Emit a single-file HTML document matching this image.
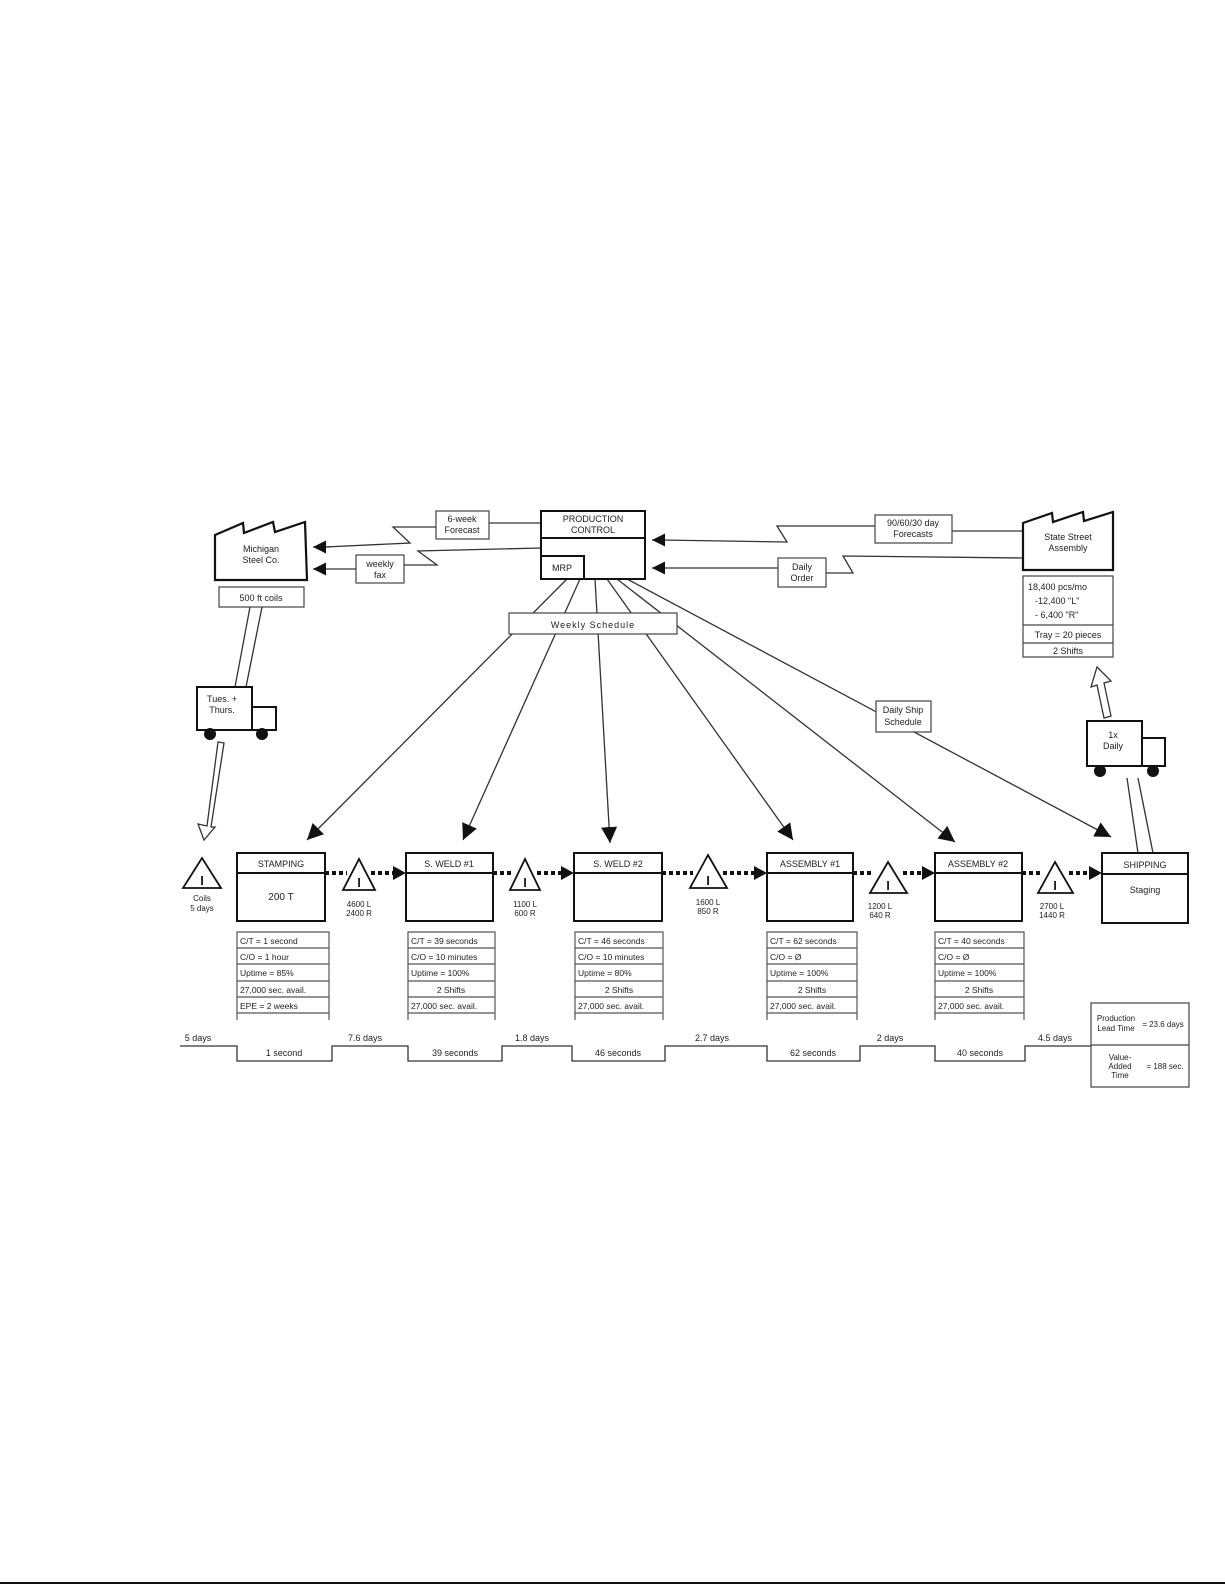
<!DOCTYPE html>
<html><head><meta charset="utf-8"><style>
html,body{margin:0;padding:0;background:#fff}
svg{display:block}
text{font-family:"Liberation Sans",sans-serif;fill:#222}
</style></head><body>
<svg width="1225" height="1585" viewBox="0 0 1225 1585" xmlns="http://www.w3.org/2000/svg">
<defs>
<marker id="ah" viewBox="0 0 10 10" refX="10" refY="5" markerWidth="16" markerHeight="16" markerUnits="userSpaceOnUse" orient="auto"><path d="M0,0 L10,5 L0,10 z" fill="#111"/></marker>
<marker id="ahb" viewBox="0 0 10 10" refX="10" refY="5" markerWidth="13" markerHeight="13" markerUnits="userSpaceOnUse" orient="auto"><path d="M0,0 L10,5 L0,10 z" fill="#111"/></marker>
</defs>
<rect width="1225" height="1585" fill="#fff"/>
<rect x="0" y="1582" width="1225" height="2" fill="#111"/>
<g stroke="#333" fill="none" stroke-width="1.3">
<line x1="567" y1="579" x2="307" y2="840" marker-end="url(#ah)"/>
<line x1="580" y1="579" x2="463" y2="840" marker-end="url(#ah)"/>
<line x1="595" y1="579" x2="610" y2="843" marker-end="url(#ah)"/>
<line x1="607" y1="579" x2="793" y2="840" marker-end="url(#ah)"/>
<line x1="617" y1="579" x2="955" y2="842" marker-end="url(#ah)"/>
<line x1="627" y1="579" x2="1111" y2="837" marker-end="url(#ah)"/>
<polyline points="541,523 489,523"/>
<polyline points="436,527 393,527 410,543 325,547" />
<line x1="330" y1="547" x2="313" y2="547" marker-end="url(#ahb)"/>
<polyline points="541,548 418,551 437,565 404,565"/>
<line x1="356" y1="569" x2="313" y2="569" marker-end="url(#ahb)"/>
<polyline points="1023,531 952,531"/>
<polyline points="875,526 777,526 787,542 660,540"/>
<line x1="665" y1="540" x2="652" y2="540" marker-end="url(#ahb)"/>
<polyline points="1023,558 843,556 853,573 826,573"/>
<line x1="778" y1="568" x2="652" y2="568" marker-end="url(#ahb)"/>
<line x1="250" y1="607" x2="235" y2="687"/><line x1="262" y1="607" x2="246" y2="687"/>
<line x1="1138" y1="853" x2="1127" y2="778"/><line x1="1153" y1="853" x2="1138" y2="778"/>
<path d="M218,742 L207,826 L198,824 L204,840 L215,827 L211,827 L224,743 Z" fill="#fff"/>
<path d="M1104,718 L1097,685 L1091,687 L1097,667 L1111,681 L1104,683 L1111,716 Z" fill="#fff"/>
<polyline points="180,1046 237,1046 237,1061 332,1061 332,1046 408,1046 408,1061 502,1061 502,1046 572,1046 572,1061 665,1061 665,1046 767,1046 767,1061 860,1061 860,1046 935,1046 935,1061 1025,1061 1025,1046 1091,1046"/>
</g>
<g stroke="#111" stroke-width="2.2" fill="#fff">
<path d="M215,535 L243,523 L244,533 L273,522 L275,532 L305,522 L307,580 L215,580 Z"/>
<path d="M1023,523 L1052,513 L1053,522 L1083,512 L1084,521 L1113,512 L1113,570 L1023,570 Z"/>
</g>
<g font-size="9" text-anchor="middle">
<text x="261" y="552">Michigan</text><text x="261" y="563">Steel Co.</text>
<text x="1068" y="540">State Street</text><text x="1068" y="551">Assembly</text>
</g>
<g stroke="#444" stroke-width="1.2" fill="#fff">
<rect x="219" y="587" width="85" height="20"/>
<rect x="436" y="511" width="53" height="28"/>
<rect x="356" y="555" width="48" height="28"/>
<rect x="509" y="613" width="168" height="21"/>
<rect x="875" y="515" width="77" height="28"/>
<rect x="778" y="558" width="48" height="29"/>
<rect x="876" y="701" width="55" height="31"/>
<rect x="1023" y="576" width="90" height="81"/>
<line x1="1023" y1="625" x2="1113" y2="625"/><line x1="1023" y1="643" x2="1113" y2="643"/>
<rect x="1091" y="1003" width="98" height="84"/>
<line x1="1091" y1="1045" x2="1189" y2="1045"/>
</g>
<g font-size="9" text-anchor="middle">
<text x="261" y="601">500 ft coils</text>
<text x="462" y="522">6-week</text><text x="462" y="533">Forecast</text>
<text x="380" y="567">weekly</text><text x="380" y="578">fax</text>
<text x="593" y="628" letter-spacing="1">Weekly Schedule</text>
<text x="913" y="526">90/60/30 day</text><text x="913" y="537">Forecasts</text>
<text x="802" y="570">Daily</text><text x="802" y="581">Order</text>
<text x="903" y="713">Daily Ship</text><text x="903" y="725">Schedule</text>
<text x="1028" y="590" text-anchor="start">18,400 pcs/mo</text>
<text x="1035" y="604" text-anchor="start">-12,400 "L"</text>
<text x="1035" y="618" text-anchor="start">- 6,400 "R"</text>
<text x="1068" y="638">Tray = 20 pieces</text>
<text x="1068" y="654">2 Shifts</text>
<text x="1116" y="1021" font-size="8">Production</text><text x="1116" y="1031" font-size="8">Lead Time</text>
<text x="1163" y="1027" font-size="8">= 23.6 days</text>
<text x="1120" y="1060" font-size="8">Value-</text><text x="1120" y="1069" font-size="8">Added</text><text x="1120" y="1078" font-size="8">Time</text>
<text x="1165" y="1069" font-size="8">= 188 sec.</text>
</g>
<g stroke="#111" stroke-width="2" fill="#fff">
<rect x="541" y="511" width="104" height="68"/>
<line x1="541" y1="538" x2="645" y2="538"/>
<rect x="541" y="556" width="43" height="23"/>
</g>
<g font-size="9" text-anchor="middle">
<text x="593" y="522">PRODUCTION</text><text x="593" y="533">CONTROL</text>
<text x="562" y="571">MRP</text>
</g>
<g stroke="#111" stroke-width="2" fill="#fff">
<rect x="197" y="687" width="55" height="43"/><rect x="252" y="707" width="24" height="23"/>
<rect x="1087" y="721" width="55" height="45"/><rect x="1142" y="738" width="23" height="28"/>
</g>
<g fill="#111"><circle cx="210" cy="734" r="6"/><circle cx="262" cy="734" r="6"/><circle cx="1100" cy="771" r="6"/><circle cx="1153" cy="771" r="6"/></g>
<g font-size="9" text-anchor="middle">
<text x="222" y="702">Tues. +</text><text x="222" y="713">Thurs.</text>
<text x="1113" y="738">1x</text><text x="1113" y="749">Daily</text>
</g>
<g stroke="#111" stroke-width="4" stroke-dasharray="4,3">
<line x1="325" y1="873" x2="347" y2="873"/><line x1="371" y1="873" x2="394" y2="873"/>
<line x1="493" y1="873" x2="514" y2="873"/><line x1="537" y1="873" x2="562" y2="873"/>
<line x1="662" y1="873" x2="693" y2="873"/><line x1="723" y1="873" x2="755" y2="873"/>
<line x1="853" y1="873" x2="874" y2="873"/><line x1="903" y1="873" x2="923" y2="873"/>
<line x1="1022" y1="873" x2="1042" y2="873"/><line x1="1069" y1="873" x2="1090" y2="873"/>
</g>
<g fill="#111">
<path d="M393,866 L406,873 L393,880 Z"/><path d="M561,866 L574,873 L561,880 Z"/>
<path d="M754,866 L767,873 L754,880 Z"/><path d="M922,866 L935,873 L922,880 Z"/>
<path d="M1089,866 L1102,873 L1089,880 Z"/>
</g>
<g stroke="#111" stroke-width="1.8" fill="#fff">
<path d="M202,858 L183,888 L221,888 Z"/>
<path d="M359,859 L343,890 L375,890 Z"/>
<path d="M525,859 L510,890 L540,890 Z"/>
<path d="M708,855 L690,888 L727,888 Z"/>
<path d="M888,862 L870,893 L907,893 Z"/>
<path d="M1055,862 L1038,893 L1073,893 Z"/>
</g>
<g font-size="13" text-anchor="middle" font-weight="bold"><text x="202" y="885">I</text><text x="359" y="887">I</text><text x="525" y="887">I</text><text x="708" y="885">I</text><text x="888" y="890">I</text><text x="1055" y="890">I</text></g>
<g font-size="8" text-anchor="middle">
<text x="202" y="901">Coils</text><text x="202" y="911">5 days</text>
<text x="359" y="907">4600 L</text><text x="359" y="916">2400 R</text>
<text x="525" y="907">1100 L</text><text x="525" y="916">600 R</text>
<text x="708" y="905">1600 L</text><text x="708" y="914">850 R</text>
<text x="880" y="909">1200 L</text><text x="880" y="918">640 R</text>
<text x="1052" y="909">2700 L</text><text x="1052" y="918">1440 R</text>
</g>
<g stroke="#111" stroke-width="2" fill="#fff">
<rect x="237" y="853" width="88" height="68"/><line x1="237" y1="873" x2="325" y2="873"/>
<rect x="406" y="853" width="87" height="68"/><line x1="406" y1="873" x2="493" y2="873"/>
<rect x="574" y="853" width="88" height="68"/><line x1="574" y1="873" x2="662" y2="873"/>
<rect x="767" y="853" width="86" height="68"/><line x1="767" y1="873" x2="853" y2="873"/>
<rect x="935" y="853" width="87" height="68"/><line x1="935" y1="873" x2="1022" y2="873"/>
<rect x="1102" y="853" width="86" height="70"/><line x1="1102" y1="874" x2="1188" y2="874"/>
</g>
<g font-size="9" text-anchor="middle">
<text x="281" y="867">STAMPING</text><text x="281" y="900" font-size="10">200 T</text>
<text x="449" y="867">S. WELD #1</text>
<text x="618" y="867">S. WELD #2</text>
<text x="810" y="867">ASSEMBLY #1</text>
<text x="978" y="867">ASSEMBLY #2</text>
<text x="1145" y="868">SHIPPING</text><text x="1145" y="893">Staging</text>
</g>
<g stroke="#555" stroke-width="1.2" fill="none">
<path d="M237,1020 V932 H329 V1020 M237,948 H329 M237,964 H329 M237,981 H329 M237,997 H329 M237,1013 H329"/>
<path d="M408,1020 V932 H495 V1020 M408,948 H495 M408,964 H495 M408,981 H495 M408,997 H495 M408,1013 H495"/>
<path d="M575,1020 V932 H663 V1020 M575,948 H663 M575,964 H663 M575,981 H663 M575,997 H663 M575,1013 H663"/>
<path d="M767,1020 V932 H857 V1020 M767,948 H857 M767,964 H857 M767,981 H857 M767,997 H857 M767,1013 H857"/>
<path d="M935,1020 V932 H1024 V1020 M935,948 H1024 M935,964 H1024 M935,981 H1024 M935,997 H1024 M935,1013 H1024"/>
</g>
<g font-size="8.5">
<text x="240" y="944">C/T = 1 second</text><text x="240" y="960">C/O = 1 hour</text><text x="240" y="976">Uptime = 85%</text><text x="240" y="993">27,000 sec. avail.</text><text x="240" y="1009">EPE = 2 weeks</text>
<text x="411" y="944">C/T = 39 seconds</text><text x="411" y="960">C/O = 10 minutes</text><text x="411" y="976">Uptime = 100%</text><text x="451" y="993" text-anchor="middle">2 Shifts</text><text x="411" y="1009">27,000 sec. avail.</text>
<text x="578" y="944">C/T = 46 seconds</text><text x="578" y="960">C/O = 10 minutes</text><text x="578" y="976">Uptime = 80%</text><text x="619" y="993" text-anchor="middle">2 Shifts</text><text x="578" y="1009">27,000 sec. avail.</text>
<text x="770" y="944">C/T = 62 seconds</text><text x="770" y="960">C/O = Ø</text><text x="770" y="976">Uptime = 100%</text><text x="812" y="993" text-anchor="middle">2 Shifts</text><text x="770" y="1009">27,000 sec. avail.</text>
<text x="938" y="944">C/T = 40 seconds</text><text x="938" y="960">C/O = Ø</text><text x="938" y="976">Uptime = 100%</text><text x="979" y="993" text-anchor="middle">2 Shifts</text><text x="938" y="1009">27,000 sec. avail.</text>
</g>
<g font-size="9" text-anchor="middle">
<text x="198" y="1041">5 days</text><text x="365" y="1041">7.6 days</text><text x="532" y="1041">1.8 days</text>
<text x="712" y="1041">2.7 days</text><text x="890" y="1041">2 days</text><text x="1055" y="1041">4.5 days</text>
<text x="284" y="1056">1 second</text><text x="455" y="1056">39 seconds</text><text x="618" y="1056">46 seconds</text>
<text x="813" y="1056">62 seconds</text><text x="980" y="1056">40 seconds</text>
</g>
</svg>
</body></html>
